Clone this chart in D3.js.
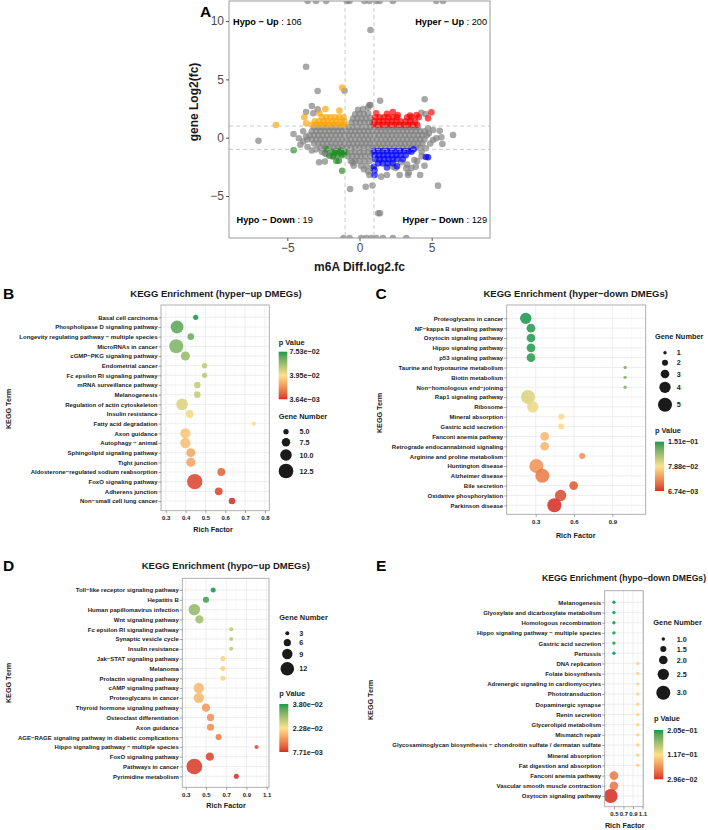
<!DOCTYPE html>
<html>
<head>
<meta charset="utf-8">
<script src="https://cdn.jsdelivr.net/npm/d3@7"></script>
<style>
  body { margin: 0; background: #fff; }
  svg text { font-family: "Liberation Sans", Arial, sans-serif; }
</style>
</head>
<body>
<svg id="fig" width="708" height="830"></svg>
<script>
// ---------------- panel A: m6A diff vs gene fold change ----------------
// dense grey core, one row per gene log2fc level: [y, [x...]]
const grayCoreRows = [
  [0.9, [-3.15, -2.85, -2.55, -2.25, -1.95, -1.65, -1.35, -1.05, -0.75, -0.45, -0.15, 0.15, 0.45, 0.75, 1.05, 1.35, 1.65, 1.95, 2.25, 2.55, 2.85, 3.15, 3.45, 3.75, 4.05]],
  [0.55, [-3.3, -3.0, -2.7, -2.4, -2.1, -1.8, -1.5, -1.2, -0.9, -0.6, -0.3, 0.0, 0.3, 0.6, 0.9, 1.2, 1.5, 1.8, 2.1, 2.4, 2.7, 3.0, 3.3, 3.6, 3.9, 4.2, 4.5]],
  [0.2, [-3.45, -3.15, -2.85, -2.55, -2.25, -1.95, -1.65, -1.35, -1.05, -0.75, -0.45, -0.15, 0.15, 0.45, 0.75, 1.05, 1.35, 1.65, 1.95, 2.25, 2.55, 2.85, 3.15, 3.45, 3.75, 4.05, 4.35, 4.65]],
  [-0.15, [-3.6, -3.3, -3.0, -2.7, -2.4, -2.1, -1.8, -1.5, -1.2, -0.9, -0.6, -0.3, 0.0, 0.3, 0.6, 0.9, 1.2, 1.5, 1.8, 2.1, 2.4, 2.7, 3.0, 3.3, 3.6, 3.9, 4.2, 4.5]],
  [-0.5, [-3.15, -2.85, -2.55, -2.25, -1.95, -1.65, -1.35, -1.05, -0.75, -0.45, -0.15, 0.15, 0.45, 0.75, 1.05, 1.35, 1.65, 1.95, 2.25, 2.55, 2.85, 3.15, 3.45, 3.75, 4.05, 4.35]],
  [-0.85, [-2.7, -2.4, -2.1, -1.8, -1.5, -1.2, -0.9, -0.6, -0.3, 0.0, 0.3, 0.6, 0.9, 1.2, 1.5, 1.8, 2.1, 2.4, 2.7, 3.0, 3.3, 3.6, 3.9, 4.2]]
];
// grey points around zero m6A change (the hourglass waist)
const grayMidPts = [
  [-0.55, 1.3], [-0.25, 1.3], [0.05, 1.3], [0.35, 1.3], [0.65, 1.3], [0.9, 1.25],
  [-0.45, 1.65], [-0.15, 1.65], [0.15, 1.65], [0.45, 1.65], [0.75, 1.7],
  [-0.3, 2.0], [0.0, 2.05], [0.3, 2.0], [0.6, 2.1], [-0.1, 2.4], [0.25, 2.45], [0.6, 2.6], [0.75, 2.8],
  [-0.9, -1.25], [-0.6, -1.25], [-0.3, -1.2], [0.0, -1.25], [0.3, -1.2], [0.6, -1.25], [0.9, -1.2],
  [-0.8, -1.6], [-0.5, -1.6], [-0.2, -1.6], [0.1, -1.6], [0.4, -1.6], [0.75, -1.6],
  [-0.6, -2.0], [-0.3, -2.0], [0.0, -2.0], [0.35, -2.0], [0.7, -2.0],
  [-0.4, -2.4], [0.1, -2.4], [0.5, -2.45], [-0.46, -2.14], [0.69, -3.2], [0.6, -2.9], [0.3, -2.7], [0.9, -2.6]
];
// scattered grey genes (tails, outliers, values squished to the axis limits)
const grayOutPts = [
  [0.76, 9.23], [-3.7, 6.08], [-1.04, 4.03], [-2.9, 4.0], [1.43, 3.17], [4.51, 3.3],
  [-3.3, 2.72], [-2.9, 2.43], [-3.2, 2.1], [-3.7, 2.2],
  [-7.0, -0.26], [6.48, 0.23], [5.44, -4.11], [-0.65, -4.4], [0.43, -4.2], [1.3, -6.48], [1.42, -6.48],
  [-2.8, -2.1], [4.5, -2.4], [3.4, -3.0], [4.2, -3.2], [1.9, -3.2], [0.9, -4.1],
  [-4.57, 0.32], [-4.2, -0.05], [-3.9, -0.33], [-3.7, 0.1], [-3.9, 0.55], [-4.1, -0.6], [-3.6, -0.8],
  [-3.3, -1.1], [-2.6, -1.2], [-2.3, -1.4], [-2.4, -2.05], [-1.85, -1.63], [-2.4, -1.34], [-3.0, -1.0],
  [4.58, 2.03], [4.28, 2.14], [5.1, 0.66], [5.56, 0.6], [5.32, -0.05], [5.74, -0.54], [5.1, -0.2],
  [5.67, 0.03], [4.75, 0.8], [4.8, 0.35], [4.9, -0.5], [4.6, -0.9], [4.3, -1.2], [3.8, -1.91],
  [3.9, -2.48], [3.24, -2.63], [3.36, -3.2], [2.31, -2.48], [2.78, -3.2], [1.5, -3.34], [4.3, -1.6],
  [4.0, -2.0], [2.9, -2.1], [3.3, -2.3], [3.6, -2.6], [2.5, -2.6], [0.69, 2.8],
  [-3.59, 11.72], [-3.01, 11.72], [-2.31, 11.72], [-0.88, 11.72], [-0.69, 11.72], [0.35, 11.72],
  [0.69, 11.72], [1.16, 11.72], [1.39, 11.72], [2.31, 11.72], [5.32, 11.72], [5.79, 11.72],
  [-1.11, -8.6], [-0.69, -8.6], [0.12, -8.6], [0.46, -8.6], [0.81, -8.6], [1.16, -8.6], [1.62, -8.6],
  [2.31, -8.6], [3.24, -8.6]
];
const hypoUpPts = [
  [-3.3, 1.1], [-3.0, 1.1], [-2.7, 1.1], [-2.4, 1.1], [-2.1, 1.1], [-1.8, 1.1], [-1.5, 1.1], [-1.2, 1.1], [-1.0, 1.1],
  [-3.1, 1.4], [-2.8, 1.4], [-2.5, 1.4], [-2.2, 1.4], [-1.9, 1.4], [-1.6, 1.4], [-1.3, 1.4], [-1.05, 1.4],
  [-2.6, 1.75], [-2.3, 1.75], [-2.0, 1.75], [-1.7, 1.75], [-1.4, 1.75], [-1.1, 1.75],
  [-3.82, 1.75], [-3.7, 1.23], [-2.36, 2.46], [-1.39, 2.32], [-2.78, 2.1], [-5.79, 1.09], [-1.2, 4.29]
];
const hyperUpPts = [
  [1.0, 1.1], [1.3, 1.1], [1.6, 1.1], [1.9, 1.1], [2.2, 1.1], [2.5, 1.1], [2.8, 1.1], [3.1, 1.1], [3.4, 1.1], [3.7, 1.1], [4.0, 1.1],
  [1.05, 1.4], [1.35, 1.4], [1.65, 1.4], [1.95, 1.4], [2.25, 1.4], [2.55, 1.4], [2.85, 1.4], [3.2, 1.4], [3.5, 1.4], [3.85, 1.4],
  [1.1, 1.75], [1.4, 1.75], [1.7, 1.75], [2.0, 1.75], [2.3, 1.75], [2.6, 1.75], [3.3, 1.75], [3.6, 1.75], [4.1, 1.75],
  [2.3, 2.2], [1.9, 2.05], [3.5, 1.9], [4.75, 1.66], [4.98, 2.17], [3.95, 1.95], [1.15, 2.1], [2.65, 1.95]
];
const hypoDownPts = [
  [-1.9, -1.2], [-1.6, -1.15], [-1.3, -1.1], [-1.05, -1.2], [-1.5, -1.45], [-1.2, -1.5], [-1.8, -1.55],
  [-2.08, -1.55], [-1.43, -1.97], [-1.2, -2.83], [-4.56, -1.08], [-1.1, -1.4], [-1.7, -1.25],
  [-1.35, -1.3], [-2.3, -1.0], [-1.6, -2.0]
];
const hyperDownPts = [
  [1.0, -1.15], [1.3, -1.15], [1.6, -1.15], [1.9, -1.15], [2.2, -1.15], [2.5, -1.15], [2.8, -1.15], [3.1, -1.15], [3.4, -1.15],
  [1.05, -1.5], [1.35, -1.5], [1.65, -1.5], [1.95, -1.5], [2.25, -1.5], [2.55, -1.5], [2.85, -1.5], [3.2, -1.5],
  [1.1, -1.85], [1.4, -1.85], [1.7, -1.85], [2.0, -1.85], [2.3, -1.85], [2.6, -1.85], [3.0, -1.85],
  [1.3, -2.2], [1.6, -2.2], [1.95, -2.2], [2.3, -2.2],
  [4.75, -1.68], [4.6, -1.65], [1.04, -3.2], [1.04, -2.8], [1.0, -2.5], [3.6, -1.2], [3.75, -1.0], [2.6, -2.45], [1.9, -2.55]
];
const quadrantLabels = [
  ['Hypo − Up', ' : 106'], ['Hyper − Up', ' : 200'], ['Hypo − Down', ' : 19'], ['Hyper − Down', ' : 129']
];
const ticksAX = [-5, 0, 5];
const ticksAY = [-5, 0, 5, 10];

// ---------------- panel B: hyper-up ----------------
const termsB = ['Basal cell carcinoma', 'Phospholipase D signaling pathway', 'Longevity regulating pathway − multiple species',
  'MicroRNAs in cancer', 'cGMP−PKG signaling pathway', 'Endometrial cancer', 'Fc epsilon RI signaling pathway',
  'mRNA surveillance pathway', 'Melanogenesis', 'Regulation of actin cytoskeleton', 'Insulin resistance',
  'Fatty acid degradation', 'Axon guidance', 'Autophagy − animal', 'Sphingolipid signaling pathway', 'Tight junction',
  'Aldosterone−regulated sodium reabsorption', 'FoxO signaling pathway', 'Adherens junction', 'Non−small cell lung cancer'];
const richB = [0.451, 0.357, 0.426, 0.353, 0.399, 0.496, 0.496, 0.459, 0.459, 0.382, 0.421, 0.744, 0.399, 0.399, 0.426, 0.426, 0.58, 0.446, 0.567, 0.634];
const genesB = [5, 11, 6, 12, 8, 5, 5, 6, 6, 10, 7, 4, 9, 9, 8, 8, 7, 13, 7, 6];
const pvalB = [0.0753, 0.068, 0.066, 0.062, 0.058, 0.052, 0.052, 0.05, 0.05, 0.046, 0.042, 0.038, 0.033, 0.032, 0.027, 0.026, 0.012, 0.007, 0.007, 0.00364];
const ticksB = [0.3, 0.4, 0.5, 0.6, 0.7, 0.8];
const sizeBreaksB = [5, 7.5, 10, 12.5];

// ---------------- panel C: hyper-down ----------------
const termsC = ['Proteoglycans in cancer', 'NF−kappa B signaling pathway', 'Oxytocin signaling pathway', 'Hippo signaling pathway',
  'p53 signaling pathway', 'Taurine and hypotaurine metabolism', 'Biotin metabolism', 'Non−homologous end−joining',
  'Rap1 signaling pathway', 'Ribosome', 'Mineral absorption', 'Gastric acid secretion', 'Fanconi anemia pathway',
  'Retrograde endocannabinoid signaling', 'Arginine and proline metabolism', 'Huntington disease', 'Alzheimer disease',
  'Bile secretion', 'Oxidative phosphorylation', 'Parkinson disease'];
const richC = [0.222, 0.263, 0.263, 0.263, 0.263, 1.0, 1.0, 1.0, 0.24, 0.277, 0.5, 0.5, 0.37, 0.37, 0.664, 0.305, 0.352, 0.597, 0.495, 0.446];
const genesC = [4, 3, 3, 3, 3, 1, 1, 1, 5, 4, 2, 2, 3, 3, 2, 5, 5, 3, 4, 5];
const pvalC = [0.1509, 0.149, 0.149, 0.149, 0.148, 0.125, 0.125, 0.125, 0.092, 0.086, 0.076, 0.076, 0.06, 0.06, 0.043, 0.044, 0.034, 0.02, 0.015, 0.00674];
const ticksC = [0.3, 0.6, 0.9];
const sizeBreaksC = [1, 2, 3, 4, 5];

// ---------------- panel D: hypo-up ----------------
const termsD = ['Toll−like receptor signaling pathway', 'Hepatitis B', 'Human papillomavirus infection', 'Wnt signaling pathway',
  'Fc epsilon RI signaling pathway', 'Synaptic vesicle cycle', 'Insulin resistance', 'Jak−STAT signaling pathway', 'Melanoma',
  'Prolactin signaling pathway', 'cAMP signaling pathway', 'Proteoglycans in cancer', 'Thyroid hormone signaling pathway',
  'Osteoclast differentiation', 'Axon guidance', 'AGE−RAGE signaling pathway in diabetic complications',
  'Hippo signaling pathway − multiple species', 'FoxO signaling pathway', 'Pathways in cancer', 'Pyrimidine metabolism'];
const richD = [0.571, 0.5, 0.385, 0.435, 0.75, 0.75, 0.75, 0.667, 0.667, 0.667, 0.429, 0.429, 0.5, 0.545, 0.545, 0.625, 1.0, 0.538, 0.385, 0.8];
const genesD = [4, 5, 10, 7, 3, 3, 3, 4, 4, 4, 9, 9, 7, 6, 6, 5, 3, 7, 14, 4];
const pvalD = [0.03797, 0.0365, 0.031, 0.030, 0.028, 0.028, 0.028, 0.0215, 0.0215, 0.0215, 0.019, 0.019, 0.016, 0.0152, 0.0152, 0.0135, 0.0095, 0.009, 0.0085, 0.00771];
const ticksD = [0.3, 0.5, 0.7, 0.9, 1.1];
const sizeBreaksD = [3, 6, 9, 12];

// ---------------- panel E: hypo-down ----------------
const termsE = ['Melanogenesis', 'Glyoxylate and dicarboxylate metabolism', 'Homologous recombination',
  'Hippo signaling pathway − multiple species', 'Gastric acid secretion', 'Pertussis', 'DNA replication', 'Folate biosynthesis',
  'Adrenergic signaling in cardiomyocytes', 'Phototransduction', 'Dopaminergic synapse', 'Renin secretion',
  'Glycerolipid metabolism', 'Mismatch repair', 'Glycosaminoglycan biosynthesis − chondroitin sulfate / dermatan sulfate',
  'Mineral absorption', 'Fat digestion and absorption', 'Fanconi anemia pathway', 'Vascular smooth muscle contraction',
  'Oxytocin signaling pathway'];
const richE = [0.5, 0.5, 0.5, 0.5, 0.5, 0.5, 1.0, 1.0, 1.0, 1.0, 1.0, 1.0, 1.0, 1.0, 1.0, 1.0, 1.0, 0.5, 0.5, 0.43];
const genesE = [1, 1, 1, 1, 1, 1, 1, 1, 1, 1, 1, 1, 1, 1, 1, 1, 1, 2, 2, 3];
const pvalE = [0.205, 0.205, 0.205, 0.205, 0.205, 0.205, 0.11, 0.11, 0.11, 0.11, 0.11, 0.11, 0.11, 0.11, 0.11, 0.11, 0.11, 0.062, 0.06, 0.0296];
const ticksE = [0.5, 0.7, 0.9, 1.1];
const sizeBreaksE = [1, 1.5, 2, 2.5, 3];


const svg = d3.select('#fig');
const FONT_DARK = '#1a1a1a';

// 7.53e-02 style labels, as R prints them
function fmtE(v) {
  const parts = v.toExponential(2).split('e');
  const n = parseInt(parts[1], 10);
  return parts[0] + 'e' + (n < 0 ? '−' : '+') + String(Math.abs(n)).padStart(2, '0');
}

function panelLetter(letter, x, y) {
  svg.append('text')
    .attr('x', x).attr('y', y)
    .attr('font-size', 15.5).attr('font-weight', 'bold')
    .attr('fill', '#000')
    .text(letter);
}


function drawScatter() {
  const L = {left: 229, right: 490, top: 1, bottom: 238};
  const x = d3.scaleLinear().domain([-9.04, 9.04]).range([L.left, L.right]);
  const y = d3.scaleLinear().domain([-8.6, 11.72]).range([L.bottom, L.top]);
  const g = svg.append('g');

  g.append('clipPath').attr('id', 'clipA')
    .append('rect')
    .attr('x', L.left).attr('y', L.top)
    .attr('width', L.right - L.left).attr('height', L.bottom - L.top);

  const plot = g.append('g').attr('clip-path', 'url(#clipA)');

  const grayPts = [];
  grayCoreRows.forEach(([yv, xs]) => xs.forEach(xv => grayPts.push([xv, yv])));
  grayMidPts.forEach(p => grayPts.push(p));
  grayOutPts.forEach(p => grayPts.push(p));

  const groups = [
    [grayPts, '#7f7f7f'],
    [hypoUpPts, '#ffa500'],
    [hyperUpPts, '#ff0000'],
    [hypoDownPts, '#228b22'],
    [hyperDownPts, '#0000ff']
  ];
  groups.forEach(([pts, col]) => {
    plot.append('g').selectAll('circle')
      .data(pts)
      .join('circle')
      .attr('cx', d => x(d[0]))
      .attr('cy', d => y(d[1]))
      .attr('r', 3.3)
      .attr('fill', col)
      .attr('fill-opacity', 0.68);
  });

  // threshold lines
  [-1, 1].forEach(v => {
    plot.append('line')
      .attr('x1', x(v)).attr('x2', x(v))
      .attr('y1', L.top).attr('y2', L.bottom)
      .attr('stroke', '#bdbdbd').attr('stroke-width', 0.8).attr('stroke-dasharray', '4,3');
    plot.append('line')
      .attr('x1', L.left).attr('x2', L.right)
      .attr('y1', y(v)).attr('y2', y(v))
      .attr('stroke', '#bdbdbd').attr('stroke-width', 0.8).attr('stroke-dasharray', '4,3');
  });

  g.append('rect')
    .attr('x', L.left).attr('y', L.top)
    .attr('width', L.right - L.left).attr('height', L.bottom - L.top)
    .attr('fill', 'none').attr('stroke', '#9a9a9a').attr('stroke-width', 1);

  const xAxis = d3.axisBottom(x).tickValues(ticksAX).tickSize(3).tickPadding(2.5).tickFormat(d3.format('d'));
  const yAxis = d3.axisLeft(y).tickValues(ticksAY).tickSize(3).tickPadding(2).tickFormat(d3.format('d'));
  const ax = g.append('g').attr('transform', `translate(0,${L.bottom})`).call(xAxis);
  const ay = g.append('g').attr('transform', `translate(${L.left},0)`).call(yAxis);
  [ax, ay].forEach(a => {
    a.select('.domain').remove();
    a.selectAll('.tick line').attr('stroke', '#555');
    a.selectAll('.tick text')
      .attr('font-size', 12).attr('fill', '#4d4d4d')
      .style('font-family', '"Liberation Sans", Arial, sans-serif')
      .text(d => d < 0 ? '−' + Math.abs(d) : d);
  });

  g.append('text')
    .attr('x', (L.left + L.right) / 2).attr('y', 271)
    .attr('text-anchor', 'middle')
    .attr('font-size', 12).attr('font-weight', 'bold').attr('fill', FONT_DARK)
    .text('m6A Diff.log2.fc');
  g.append('text')
    .attr('transform', 'translate(197.5,102) rotate(-90)')
    .attr('text-anchor', 'middle')
    .attr('font-size', 12).attr('font-weight', 'bold').attr('fill', FONT_DARK)
    .text('gene Log2(fc)');

  // quadrant counts
  const spots = [
    {x: 233, y: 24.5, anchor: 'start'},
    {x: 487, y: 24.5, anchor: 'end'},
    {x: 236.5, y: 222.5, anchor: 'start'},
    {x: 487, y: 222.5, anchor: 'end'}
  ];
  quadrantLabels.forEach((lab, i) => {
    const t = g.append('text')
      .attr('x', spots[i].x).attr('y', spots[i].y)
      .attr('text-anchor', spots[i].anchor)
      .attr('font-size', 9.2).attr('fill', '#000');
    t.append('tspan').attr('font-weight', 'bold').text(lab[0]);
    t.append('tspan').text(lab[1]);
  });

  panelLetter('A', 200, 17);
}


function drawBubble(P) {
  const x = d3.scaleLinear().domain(P.xDomain).range([P.left, P.right]);
  const y = d3.scalePoint().domain(P.terms).range([P.rowFirst, P.rowLast]);
  const [pMin, pMax] = d3.extent(P.pval);
  const pMid = (pMin + pMax) / 2;
  const color = d3.scaleLinear()
    .domain([pMin, pMid, pMax])
    .range(['#d73027', '#fee08b', '#1a9850'])
    .interpolate(d3.interpolateLab);
  const diam = d3.scaleLinear().domain(P.sizeDomain).range(P.diamRange);

  const g = svg.append('g');
  const clipId = 'clip' + P.letter;
  g.append('clipPath').attr('id', clipId)
    .append('rect')
    .attr('x', P.left).attr('y', P.top)
    .attr('width', P.right - P.left).attr('height', P.bottom - P.top);

  // grid
  const grid = g.append('g');
  P.minor.forEach(v => {
    grid.append('line')
      .attr('x1', x(v)).attr('x2', x(v)).attr('y1', P.top).attr('y2', P.bottom)
      .attr('stroke', '#f2f2f2').attr('stroke-width', 0.5);
  });
  P.ticks.forEach(v => {
    grid.append('line')
      .attr('x1', x(v)).attr('x2', x(v)).attr('y1', P.top).attr('y2', P.bottom)
      .attr('stroke', '#e6e6e6').attr('stroke-width', 0.7);
  });
  P.terms.forEach(t => {
    grid.append('line')
      .attr('x1', P.left).attr('x2', P.right).attr('y1', y(t)).attr('y2', y(t))
      .attr('stroke', '#e6e6e6').attr('stroke-width', 0.7);
  });

  // bubbles
  const rows = P.terms.map((t, i) => ({term: t, rich: P.rich[i], genes: P.genes[i], p: P.pval[i]}));
  g.append('g').attr('clip-path', `url(#${clipId})`)
    .selectAll('circle')
    .data(rows)
    .join('circle')
    .attr('cx', d => x(d.rich))
    .attr('cy', d => y(d.term))
    .attr('r', d => diam(d.genes) / 2)
    .attr('fill', d => color(d.p))
    .attr('fill-opacity', 0.88);

  g.append('rect')
    .attr('x', P.left).attr('y', P.top)
    .attr('width', P.right - P.left).attr('height', P.bottom - P.top)
    .attr('fill', 'none').attr('stroke', '#a8a8a8').attr('stroke-width', 0.9);

  // axes
  const ax = g.append('g').attr('transform', `translate(0,${P.bottom})`)
    .call(d3.axisBottom(x).tickValues(P.ticks).tickSize(2.5).tickPadding(3).tickFormat(d3.format('.1f')));
  const ay = g.append('g').attr('transform', `translate(${P.left},0)`)
    .call(d3.axisLeft(y).tickSize(2.5).tickPadding(1));
  [ax, ay].forEach(a => {
    a.select('.domain').remove();
    a.selectAll('.tick line').attr('stroke', '#666').attr('stroke-width', 0.6);
    a.selectAll('.tick text')
      .attr('font-size', 6).attr('font-weight', 'bold').attr('fill', '#222')
      .style('font-family', '"Liberation Sans", Arial, sans-serif');
  });

  // titles
  g.append('text')
    .attr('x', P.titleX).attr('y', P.titleY)
    .attr('text-anchor', P.titleAnchor || 'middle')
    .attr('font-size', P.titleSize || 9.5).attr('font-weight', 'bold').attr('fill', FONT_DARK)
    .text(P.title);
  g.append('text')
    .attr('x', P.richX).attr('y', P.richY)
    .attr('text-anchor', 'middle')
    .attr('font-size', 7.2).attr('font-weight', 'bold').attr('fill', FONT_DARK)
    .text('Rich Factor');
  g.append('text')
    .attr('transform', `translate(${P.termX + 2.6},${P.termY}) rotate(-90)`)
    .attr('text-anchor', 'middle')
    .attr('font-size', 7.2).attr('font-weight', 'bold').attr('fill', FONT_DARK)
    .text('KEGG Term');

  // colour bar legend
  const cb = P.colorLegend;
  const gradId = 'grad' + P.letter;
  const grad = g.append('defs').append('linearGradient')
    .attr('id', gradId).attr('x1', 0).attr('x2', 0).attr('y1', 0).attr('y2', 1);
  d3.range(0, 1.0001, 0.1).forEach(f => {
    grad.append('stop')
      .attr('offset', f)
      .attr('stop-color', color(pMax - f * (pMax - pMin)));
  });
  g.append('text')
    .attr('x', cb.x).attr('y', cb.titleY)
    .attr('font-size', 7.4).attr('font-weight', 'bold').attr('fill', FONT_DARK)
    .text('p Value');
  g.append('rect')
    .attr('x', cb.x).attr('y', cb.top)
    .attr('width', cb.w).attr('height', cb.bottom - cb.top)
    .attr('fill', `url(#${gradId})`);
  [pMax, pMid, pMin].forEach((v, i) => {
    const yy = cb.top + (cb.bottom - cb.top) * i / 2;
    g.append('text')
      .attr('x', cb.labelX).attr('y', yy + 2.6)
      .attr('font-size', 7.2).attr('font-weight', 'bold').attr('fill', '#222')
      .text(fmtE(v));
  });

  // gene number legend
  const sl = P.sizeLegend;
  g.append('text')
    .attr('x', sl.x).attr('y', sl.titleY)
    .attr('font-size', 7.4).attr('font-weight', 'bold').attr('fill', FONT_DARK)
    .text('Gene Number');
  P.sizeBreaks.forEach((v, i) => {
    g.append('circle')
      .attr('cx', sl.cx).attr('cy', sl.cy[i])
      .attr('r', diam(v) / 2)
      .attr('fill', '#1a1a1a');
    g.append('text')
      .attr('x', sl.labelX).attr('y', sl.cy[i] + 2.6)
      .attr('font-size', 7.2).attr('font-weight', 'bold').attr('fill', '#222')
      .text(sl.fmt(v));
  });

  panelLetter(P.letter, P.letterX, P.letterY);
}


drawScatter();

drawBubble({
  letter: 'B', letterX: 3, letterY: 299,
  terms: termsB, rich: richB, genes: genesB, pval: pvalB,
  ticks: ticksB, minor: [0.35, 0.45, 0.55, 0.65, 0.75],
  xDomain: [0.276, 0.822],
  left: 161, right: 269.3, top: 305, bottom: 510.7, rowFirst: 317.3, rowLast: 501,
  title: 'KEGG Enrichment (hyper−up DMEGs)', titleX: 216, titleY: 296.5,
  richX: 213, richY: 532, termX: 8, termY: 409,
  sizeDomain: [5, 12.5], diamRange: [5.3, 14.7], sizeBreaks: sizeBreaksB,
  colorLegend: {x: 278.7, titleY: 344.5, top: 351.7, bottom: 399.3, w: 8.6, labelX: 289.5},
  sizeLegend: {x: 278.7, titleY: 418.8, cx: 286, cy: [431.7, 442.3, 455, 471], labelX: 299.5, fmt: d3.format('.1f')}
});

drawBubble({
  letter: 'C', letterX: 375.5, letterY: 299,
  terms: termsC, rich: richC, genes: genesC, pval: pvalC,
  ticks: ticksC, minor: [0.15, 0.45, 0.75, 1.05],
  xDomain: [0.073, 1.161],
  left: 506.7, right: 645.7, top: 305, bottom: 514.3, rowFirst: 318.3, rowLast: 505.3,
  title: 'KEGG Enrichment (hyper−down DMEGs)', titleX: 575.7, titleY: 296.5,
  richX: 575.7, richY: 537.8, termX: 379, termY: 413,
  sizeDomain: [1, 5], diamRange: [3.4, 14], sizeBreaks: sizeBreaksC,
  colorLegend: {x: 655, titleY: 433.4, top: 441.7, bottom: 491, w: 9, labelX: 668},
  sizeLegend: {x: 655, titleY: 339.4, cx: 665, cy: [352.7, 362.7, 374, 387.3, 404.7], labelX: 676.7, fmt: d3.format('d')}
});

drawBubble({
  letter: 'D', letterX: 3, letterY: 571,
  terms: termsD, rich: richD, genes: genesD, pval: pvalD,
  ticks: ticksD, minor: [0.4, 0.6, 0.8, 1.0],
  xDomain: [0.266, 1.123],
  left: 182.3, right: 269, top: 578.3, bottom: 787.3, rowFirst: 590, rowLast: 776.3,
  title: 'KEGG Enrichment (hypo−up DMEGs)', titleX: 225.8, titleY: 568.5,
  richX: 226, richY: 808.3, termX: 8, termY: 683,
  sizeDomain: [3, 12], diamRange: [4, 13.6], sizeBreaks: sizeBreaksD,
  colorLegend: {x: 279.3, titleY: 696, top: 704, bottom: 752, w: 9, labelX: 292.7},
  sizeLegend: {x: 279.3, titleY: 620, cx: 287.3, cy: [633.3, 642.7, 654, 668.7], labelX: 299.3, fmt: d3.format('d')}
});

drawBubble({
  letter: 'E', letterX: 376, letterY: 571,
  terms: termsE, rich: richE, genes: genesE, pval: pvalE,
  ticks: ticksE, minor: [0.4, 0.6, 0.8, 1.0],
  xDomain: [0.306, 1.117],
  left: 604.7, right: 643.3, top: 590.7, bottom: 806.7, rowFirst: 602.3, rowLast: 796,
  title: 'KEGG Enrichment (hypo−down DMEGs)', titleX: 706, titleY: 581, titleAnchor: 'end', titleSize: 8.6,
  richX: 624.7, richY: 828.3, termX: 370.7, termY: 700,
  sizeDomain: [1, 3], diamRange: [3.4, 14], sizeBreaks: sizeBreaksE,
  colorLegend: {x: 654, titleY: 721, top: 730, bottom: 779.3, w: 9.3, labelX: 667.3},
  sizeLegend: {x: 653.3, titleY: 625.4, cx: 663.3, cy: [639, 649, 660, 674.3, 692.7], labelX: 676.7, fmt: d3.format('.1f')}
});
</script>
</body>
</html>
